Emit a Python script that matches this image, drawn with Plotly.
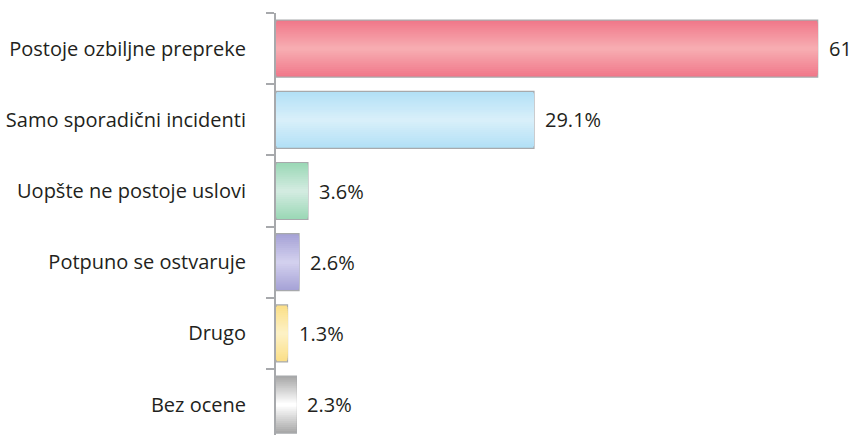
import plotly.graph_objects as go

categories = ["Postoje ozbiljne prepreke", "Samo sporadični incidenti", "Uopšte ne postoje uslovi",
              "Potpuno se ostvaruje", "Drugo", "Bez ocene"]
values = [61.1, 29.1, 3.6, 2.6, 1.3, 2.3]
value_labels = ["61.1%", "29.1%", "3.6%", "2.6%", "1.3%", "2.3%"]
edge_colors = ["#f0788a", "#b2e0f6", "#9bd8b6", "#a6a2d6", "#fbdf88", "#a9a9a9"]
mid_colors = ["#f7acb1", "#d8effa", "#d2ebe0", "#d2d0ee", "#fdf1c4", "#ffffff"]


def hex_to_rgb(h):
    h = h.lstrip("#")
    return tuple(int(h[i:i + 2], 16) for i in (0, 2, 4))


def mix(c1, c2, t):
    a, b = hex_to_rgb(c1), hex_to_rgb(c2)
    return "rgb(%d,%d,%d)" % tuple(round(a[i] + (b[i] - a[i]) * t) for i in range(3))


BAR_W = 0.80
N = 14
FONT = "Open Sans"
fig = go.Figure()
for k in range(N):
    t = k / (N - 1)
    w = BAR_W * (1 - k / N)
    fig.add_trace(go.Bar(
        x=values, y=categories, orientation="h",
        width=[w] * len(values),
        marker=dict(
            color=[mix(e, m, t) for e, m in zip(edge_colors, mid_colors)],
            line=dict(color="#a7a9ac" if k == 0 else "rgba(0,0,0,0)", width=1.2 if k == 0 else 0),
        ),
        hoverinfo="skip", showlegend=False,
    ))

for v, c, lab in zip(values, categories, value_labels):
    fig.add_annotation(x=v, y=c, text=lab, showarrow=False, xanchor="left", xshift=9,
                       font=dict(family=FONT, size=20, color="#231f20"))

fig.update_layout(
    width=852, height=435,
    margin=dict(l=276, r=0, t=13, b=0),
    barmode="overlay",
    plot_bgcolor="white", paper_bgcolor="white",
    font=dict(family=FONT, size=20, color="#231f20"),
    xaxis=dict(range=[0, 64.97], visible=False, showgrid=False, zeroline=False),
    yaxis=dict(
        type="category", categoryorder="array", categoryarray=categories,
        range=[5.427, -0.5], autorange=False,
        showline=True, linecolor="#a7a9ac", linewidth=2,
        ticks="outside", tickson="boundaries", ticklen=8, tickcolor="#a7a9ac", tickwidth=2,
        ticklabelstandoff=24,
        showgrid=False, zeroline=False,
        tickfont=dict(family=FONT, size=20, color="#231f20"),
    ),
)

fig.write_html("out.html", config={"displayModeBar": False},
               post_script="document.body.style.margin='0';")
